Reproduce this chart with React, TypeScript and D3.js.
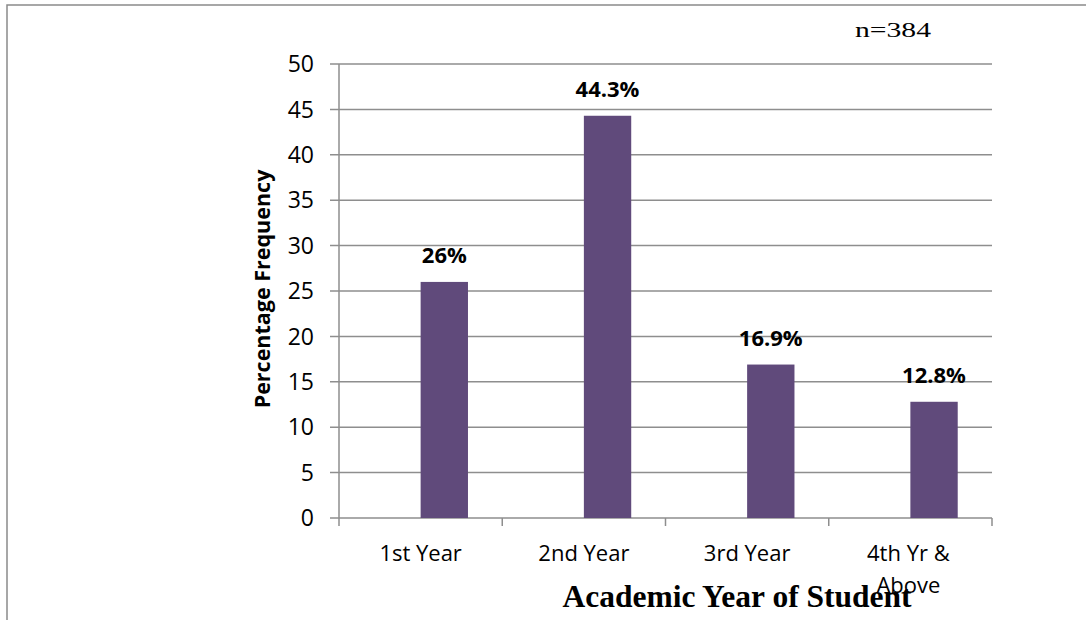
import React from "react";
import * as d3 from "d3";

// Survey respondents by academic year (n = 384)
const categories: string[][] = [["1st Year"], ["2nd Year"], ["3rd Year"], ["4th Yr &", "Above"]];
const percentages: number[] = [26, 44.3, 16.9, 12.8];
const valueLabels: string[] = ["26%", "44.3%", "16.9%", "12.8%"];
const yTicks: number[] = [0, 5, 10, 15, 20, 25, 30, 35, 40, 45, 50];

const W = 1086;
const H = 620;
const left = 339;
const right = 992;
const top = 64;
const bottom = 518;

const GRID = "#8e8e8e";
const BAR = "#604a7b";
const SANS = "'Open Sans', 'Noto Sans', sans-serif";
const SERIF = "'Liberation Serif', 'Times New Roman', serif";

export default function App() {
  const keys = categories.map((c) => c.join(" "));
  const x = d3.scaleBand<string>().domain(keys).range([left, right]).padding(0);
  const y = d3.scaleLinear().domain([0, 50]).range([bottom, top]);
  const barW = x.bandwidth() * 0.29;

  return (
    <svg
      width={W}
      height={H}
      viewBox={`0 0 ${W} ${H}`}
      style={{ position: "absolute", left: 0, top: 0, background: "#fff" }}
    >
      {/* outer frame */}
      <path d={`M7,${H + 2} L7,5 L${W + 2},5`} fill="none" stroke="#8a8a8a" strokeWidth={1.5} />

      {/* gridlines with their ticks and labels */}
      {yTicks.map((t) => (
        <g key={t}>
          <line x1={330} x2={right} y1={y(t)} y2={y(t)} stroke={GRID} strokeWidth={1.5} />
          <text
            x={314}
            y={y(t)}
            dy="0.36em"
            textAnchor="end"
            fontFamily={SANS}
            fontSize={23}
            fill="#000"
          >
            {t}
          </text>
        </g>
      ))}

      {/* value axis */}
      <line x1={left} x2={left} y1={top} y2={bottom + 8} stroke={GRID} strokeWidth={1.5} />

      {/* category ticks */}
      {keys.map((k) => (
        <line
          key={k}
          x1={(x(k) as number) + x.bandwidth()}
          x2={(x(k) as number) + x.bandwidth()}
          y1={bottom}
          y2={bottom + 8}
          stroke={GRID}
          strokeWidth={1.5}
        />
      ))}

      {/* bars */}
      {keys.map((k, i) => {
        const cx = (x(k) as number) + x.bandwidth() / 2;
        return (
          <g key={k}>
            <rect
              x={cx}
              y={y(percentages[i])}
              width={barW}
              height={bottom - y(percentages[i])}
              fill={BAR}
            />
            <text
              x={cx + barW / 2}
              y={y(percentages[i]) - 19}
              textAnchor="middle"
              fontFamily={SANS}
              fontWeight="bold"
              fontSize={22}
              fill="#000"
            >
              {valueLabels[i]}
            </text>
          </g>
        );
      })}

      {/* category labels */}
      {categories.map((lines, i) => {
        const cx = (x(keys[i]) as number) + x.bandwidth() / 2;
        return (
          <text key={i} textAnchor="middle" fontFamily={SANS} fontSize={22} fill="#000">
            {lines.map((ln, j) => (
              <tspan key={j} x={cx - (lines.length > 1 ? 2 : 0)} y={561 + j * 31.5}>
                {ln}
              </tspan>
            ))}
          </text>
        );
      })}

      {/* axis titles */}
      <text
        transform="translate(270,289) rotate(-90)"
        textAnchor="middle"
        fontFamily={SANS}
        fontWeight="bold"
        fontSize={21.5}
        fill="#000"
      >
        Percentage Frequency
      </text>
      <text
        x={737}
        y={607}
        textAnchor="middle"
        fontFamily={SERIF}
        fontWeight="bold"
        fontSize={31.5}
        fill="#000"
      >
        Academic Year of Student
      </text>

      {/* sample size */}
      <text
        x={855}
        y={36.5}
        fontFamily={SERIF}
        fontSize={20}
        textLength={76}
        lengthAdjust="spacingAndGlyphs"
        fill="#000"
      >
        n=384
      </text>
    </svg>
  );
}
